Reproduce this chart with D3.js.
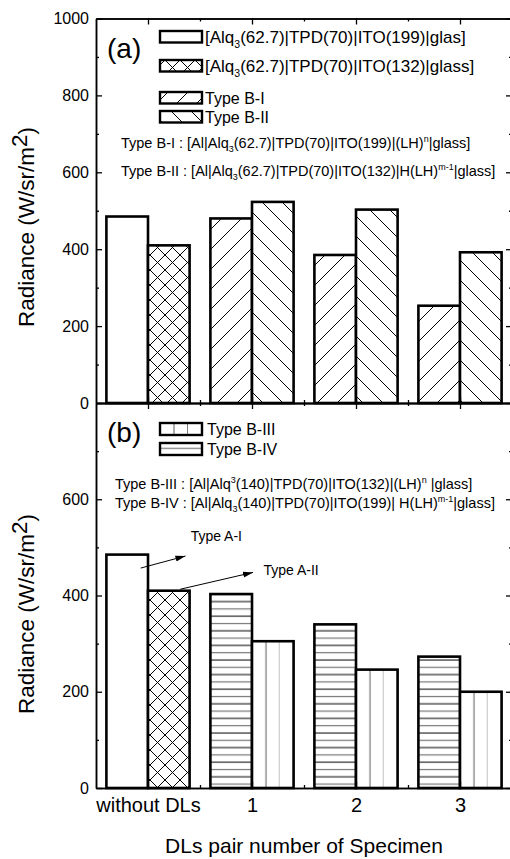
<!DOCTYPE html>
<html>
<head>
<meta charset="utf-8">
<script src="https://d3js.org/d3.v7.min.js"></script>
<style>
  body { margin: 0; background: #fff; }
  svg text { font-family: "Liberation Sans", Arial, sans-serif; fill: #000; }
</style>
</head>
<body>
<div id="chart"></div>
<script>
"use strict"

// ---- data ----
var categories = ["without DLs", "1", "2", "3"];
var typeA = [485, 410];            // Type A-I, Type A-II (without DLs)
var typeBI   = [480, 385, 253];     // panel (a), left bar of each pair
var typeBII  = [523, 503, 392];     // panel (a), right bar
var typeBIV  = [403, 340, 273];     // panel (b), left bar (horizontal lines)
var typeBIII = [305, 246, 200];     // panel (b), right bar (vertical lines)
var yTicksA = [0, 200, 400, 600, 800, 1000];
var yTicksB = [0, 200, 400, 600];

var W = 510, H = 859;
var svg = d3.select("#chart").append("svg").attr("width", W).attr("height", H);

// patterns
var defs = svg.append("defs");
function pat(id, w, h, draw, units) {
  var p = defs.append("pattern").attr("id", id)
    .attr("patternUnits", units || "userSpaceOnUse")
    .attr("width", w).attr("height", h);
  p.append("rect").attr("width", units ? 200 : w).attr("height", units ? 200 : h).attr("fill", "#fff");
  draw(p);
}
pat("cross", 15, 15, function (p) {
  p.append("path").attr("d", "M0,0L15,15M15,0L0,15").attr("stroke", "#000").attr("stroke-width", 1);
});
pat("fwd", 20, 20, function (p) {
  p.append("path").attr("d", "M0,20L20,0M-5,5L5,-5M15,25L25,15").attr("stroke", "#000").attr("stroke-width", 1);
});
pat("back", 20, 20, function (p) {
  p.append("path").attr("d", "M0,0L20,20M-5,15L5,25M15,-5L25,5").attr("stroke", "#000").attr("stroke-width", 1);
});
pat("horiz", 10, 14.6, function (p) {
  p.append("line").attr("x1", 0).attr("x2", 10).attr("y1", 3).attr("y2", 3).attr("stroke", "#000").attr("stroke-width", 1);
  p.append("line").attr("x1", 0).attr("x2", 10).attr("y1", 10.3).attr("y2", 10.3).attr("stroke", "#777").attr("stroke-width", 1.2);
});
pat("vert", 2 / 3, 1, function (p) {
  p.append("line").attr("x1", 14).attr("x2", 14).attr("y1", 0).attr("y2", 200).attr("stroke", "#777").attr("stroke-width", 1.2);
  p.append("line").attr("x1", 28).attr("x2", 28).attr("y1", 0).attr("y2", 200).attr("stroke", "#000").attr("stroke-width", 1);
}, "objectBoundingBox");

var arrowM = defs.append("marker").attr("id", "arrow")
  .attr("markerUnits", "userSpaceOnUse").attr("markerWidth", 10).attr("markerHeight", 8)
  .attr("refX", 10).attr("refY", 4).attr("orient", "auto");
arrowM.append("path").attr("d", "M0,1L10,4L0,7Z").attr("fill", "#000");

var x = d3.scaleLinear().domain([-0.5, 3.5]).range([96, 512]);
var barW = 0.4;

var panels = [
  { y: d3.scaleLinear().domain([0, 1000]).range([403, 18.5]), ticks: yTicksA,
    left: typeBI, right: typeBII, lPat: "fwd", rPat: "back", labelY: 227, xLabels: false },
  { y: d3.scaleLinear().domain([0, 800]).range([788, 403]), ticks: yTicksB,
    left: typeBIV, right: typeBIII, lPat: "horiz", rPat: "vert", labelY: 614, xLabels: true }
];

function styleAxis(g, fs) {
  g.attr("font-family", null).attr("font-size", null);
  g.selectAll("path.domain").attr("stroke", "#000").attr("stroke-width", 1.5);
  g.selectAll(".tick line").attr("stroke", "#000").attr("stroke-width", 1.3);
  g.selectAll("text").style("font-size", fs + "px");
}

panels.forEach(function (pn) {
  var y = pn.y;
  var bars = [
    { c: 0, side: 0, v: typeA[0], fill: "#fff" },
    { c: 0, side: 1, v: typeA[1], fill: "url(#cross)" }
  ];
  pn.left.forEach(function (v, i) { bars.push({ c: i + 1, side: 0, v: v, fill: "url(#" + pn.lPat + ")" }); });
  pn.right.forEach(function (v, i) { bars.push({ c: i + 1, side: 1, v: v, fill: "url(#" + pn.rPat + ")" }); });

  svg.append("g").selectAll("rect").data(bars).enter().append("rect")
    .attr("x", function (d) { return x(d.c - barW + d.side * barW); })
    .attr("y", function (d) { return y(d.v); })
    .attr("width", x(barW) - x(0))
    .attr("height", function (d) { return y(0) - y(d.v); })
    .attr("fill", function (d) { return d.fill; })
    .attr("stroke", "#000").attr("stroke-width", 2.6);

  var top = y.range()[1], bottom = y.range()[0];
  var minorY = d3.range(100, y.domain()[1], 200);
  var majorX = d3.range(categories.length);
  var minorX = d3.range(0.5, categories.length - 1, 1);

  // left
  var gl = svg.append("g").attr("transform", "translate(" + x(-0.5) + ",0)")
    .call(d3.axisLeft(y).tickValues(pn.ticks).tickSize(-6).tickSizeOuter(0).tickPadding(7).tickFormat(d3.format("d")));
  styleAxis(gl, 16);
  svg.append("g").attr("transform", "translate(" + x(-0.5) + ",0)")
    .call(d3.axisLeft(y).tickValues(minorY).tickSize(-3).tickSizeOuter(0).tickFormat(""))
    .call(function (g) { styleAxis(g, 16); });
  // right
  svg.append("g").attr("transform", "translate(" + x(3.5) + ",0)")
    .call(d3.axisRight(y).tickValues(pn.ticks).tickSize(-6).tickSizeOuter(0).tickFormat(""))
    .call(function (g) { styleAxis(g, 16); });
  svg.append("g").attr("transform", "translate(" + x(3.5) + ",0)")
    .call(d3.axisRight(y).tickValues(minorY).tickSize(-3).tickSizeOuter(0).tickFormat(""))
    .call(function (g) { styleAxis(g, 16); });
  // top
  svg.append("g").attr("transform", "translate(0," + top + ")")
    .call(d3.axisTop(x).tickValues(majorX).tickSize(-6).tickSizeOuter(0).tickFormat(""))
    .call(function (g) { styleAxis(g, 16); });
  svg.append("g").attr("transform", "translate(0," + top + ")")
    .call(d3.axisTop(x).tickValues(minorX).tickSize(-3).tickSizeOuter(0).tickFormat(""))
    .call(function (g) { styleAxis(g, 16); });
  // bottom
  var gb = svg.append("g").attr("transform", "translate(0," + bottom + ")")
    .call(d3.axisBottom(x).tickValues(majorX).tickSize(-6).tickSizeOuter(0).tickPadding(10)
      .tickFormat(function (d) { return pn.xLabels ? categories[d] : ""; }));
  styleAxis(gb, 20);
  svg.append("g").attr("transform", "translate(0," + bottom + ")")
    .call(d3.axisBottom(x).tickValues(minorX).tickSize(-3).tickSizeOuter(0).tickFormat(""))
    .call(function (g) { styleAxis(g, 16); });

  // y label
  var yl = svg.append("text").attr("transform", "translate(34," + pn.labelY + ") rotate(-90)")
    .attr("text-anchor", "middle").style("font-size", "22.5px");
  yl.append("tspan").text("Radiance (W/sr/m");
  yl.append("tspan").attr("dy", -7).text("2");
  yl.append("tspan").attr("dy", 7).text(")");
});

// x label
svg.append("text").attr("x", 304).attr("y", 853).attr("text-anchor", "middle")
  .style("font-size", "21px").text("DLs pair number of Specimen");

// rich text helper: segments [text, "n"|"sub"|"sup"]
function rich(xp, yp, segs, fs) {
  var t = svg.append("text").attr("x", xp).attr("y", yp).style("font-size", fs + "px");
  var shift = 0;
  segs.forEach(function (s) {
    var target = s[1] === "sub" ? fs * 0.3 : s[1] === "sup" ? -fs * 0.4 : 0;
    t.append("tspan").attr("dy", target - shift)
      .style("font-size", (s[1] === "n" ? fs : fs * 0.62) + "px").text(s[0]);
    shift = target;
  });
  return t;
}

// panel (a) legend
svg.append("text").attr("x", 107).attr("y", 58).style("font-size", "28px").text("(a)");
var legA = [
  { y: 31, fill: "#fff", fs: 17, segs: [["[Alq", "n"], ["3", "sub"], ["(62.7)|TPD(70)|ITO(199)|glas]", "n"]] },
  { y: 60, fill: "url(#cross)", fs: 17, segs: [["[Alq", "n"], ["3", "sub"], ["(62.7)|TPD(70)|ITO(132)|glass]", "n"]] },
  { y: 92, fill: "url(#fwd)", fs: 16, segs: [["Type B-I", "n"]] },
  { y: 111, fill: "url(#back)", fs: 16, segs: [["Type B-II", "n"]] }
];
legA.forEach(function (l) {
  svg.append("rect").attr("x", 160).attr("y", l.y).attr("width", 42).attr("height", 11.5)
    .attr("fill", l.fill).attr("stroke", "#000").attr("stroke-width", 2.4);
  rich(205, l.y + 12, l.segs, l.fs);
});
rich(121, 148, [["Type B-I : [Al|Alq", "n"], ["3", "sub"], ["(62.7)|TPD(70)|ITO(199)|(LH)", "n"], ["n", "sup"], ["|glass]", "n"]], 14.5);
rich(121, 176, [["Type B-II : [Al|Alq", "n"], ["3", "sub"], ["(62.7)|TPD(70)|ITO(132)|H(LH)", "n"], ["m-1", "sup"], ["|glass]", "n"]], 14.5);

// panel (b) legend
svg.append("text").attr("x", 107).attr("y", 442).style("font-size", "28px").text("(b)");
var legB = [
  { y: 423, fill: "url(#vert)", label: "Type B-III" },
  { y: 443, fill: "url(#horiz)", label: "Type B-IV" }
];
legB.forEach(function (l) {
  svg.append("rect").attr("x", 160).attr("y", l.y).attr("width", 42).attr("height", 12)
    .attr("fill", l.fill).attr("stroke", "#000").attr("stroke-width", 2.4);
  rich(207, l.y + 12, [[l.label, "n"]], 16);
});
rich(115, 489, [["Type B-III : [Al|Alq", "n"], ["3", "sup"], ["(140)|TPD(70)|ITO(132)|(LH)", "n"], ["n", "sup"], [" |glass]", "n"]], 14.5);
rich(115, 508, [["Type B-IV : [Al|Alq", "n"], ["3", "sub"], ["(140)|TPD(70)|ITO(199)| H(LH)", "n"], ["m-1", "sup"], ["|glass]", "n"]], 14.5);

// annotations (panel b)
var yb = panels[1].y;
svg.append("line").attr("x1", x(-0.07)).attr("y1", yb(457)).attr("x2", x(0.36)).attr("y2", yb(482))
  .attr("stroke", "#000").attr("stroke-width", 1).attr("marker-end", "url(#arrow)");
svg.append("text").attr("x", x(0.41)).attr("y", yb(513)).style("font-size", "14px").text("Type A-I");
svg.append("line").attr("x1", x(0.31)).attr("y1", yb(413)).attr("x2", x(1.01)).attr("y2", yb(448))
  .attr("stroke", "#000").attr("stroke-width", 1).attr("marker-end", "url(#arrow)");
svg.append("text").attr("x", x(1.11)).attr("y", yb(442)).style("font-size", "14px").text("Type A-II");
</script>
</body>
</html>
